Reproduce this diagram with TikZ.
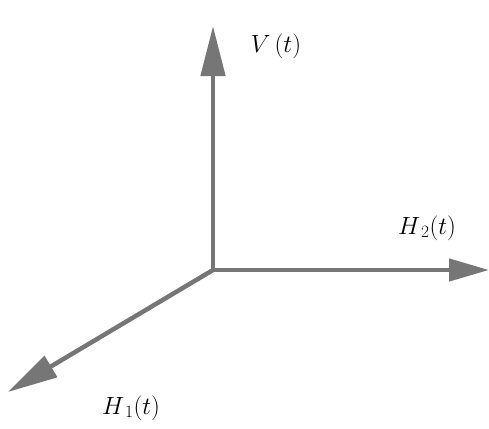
\documentclass[tikz,border=0pt]{standalone}
\usepackage{amsmath,amssymb}
\usepackage{tikz}
\usetikzlibrary{arrows.meta}
\definecolor{axisgray}{RGB}{118,118,118}

\begin{document}
\begin{tikzpicture}[x=1pt,y=-1pt,
    axis/.style={axisgray,line width=4.5pt,
      -{Triangle[length=50pt,width=24pt]}},
    lbl/.style={font=\fontsize{23}{26}\selectfont}]
    \useasboundingbox (0,0) rectangle (489,428);
    % origin and tips
    \coordinate (O) at (213,270);
    \coordinate (Vtip) at (213,26);
    \coordinate (Htwotip) at (489,270);
    \coordinate (Honetip) at (8,392);
    \draw[axis] (O)--(Vtip);
    \draw[axis,-{Triangle[length=40pt,width=22pt]}] (O)--(Htwotip);
    \draw[axis] (O)--(Honetip);
    % labels
    \node[lbl] (V) at (276,46) {$V\,(t)$};
    \node[lbl] (H2) at (427,228) {$H_{\,2}(t)$};
    \node[lbl] (H1) at (131,408) {$H_{\,1}(t)$};
\end{tikzpicture}
\end{document}
